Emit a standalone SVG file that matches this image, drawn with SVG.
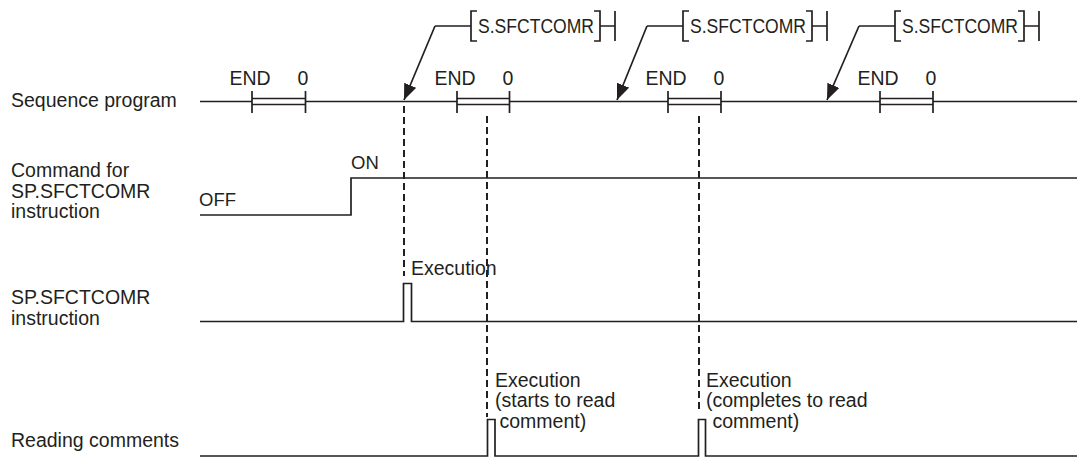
<svg xmlns="http://www.w3.org/2000/svg" width="1077" height="457" viewBox="0 0 1077 457">
<style>
text{font-family:"Liberation Sans",Arial,sans-serif;fill:#231f20}
.lbl{font-size:19.5px}
.sm{font-size:18.5px}
.ins{font-size:19.5px}
.ln{fill:none;stroke:#231f20;stroke-width:1.7}
.dash{fill:none;stroke:#231f20;stroke-width:2;stroke-dasharray:7 4}
</style>
<defs>
<marker id="ah" markerUnits="userSpaceOnUse" markerWidth="17" markerHeight="13" refX="16" refY="6.5" orient="auto">
<path d="M0,0 L16,6.5 L0,13 z" fill="#231f20"/>
</marker>
</defs>
<rect width="1077" height="457" fill="#fff"/>
<g id="labels">
<text class="lbl" x="11" y="107">Sequence program</text>
<text class="lbl" x="11" y="177">Command for</text>
<text class="lbl" x="11" y="197.5">SP.SFCTCOMR</text>
<text class="lbl" x="11" y="218">instruction</text>
<text class="lbl" x="11" y="304">SP.SFCTCOMR</text>
<text class="lbl" x="11" y="325">instruction</text>
<text class="lbl" x="11" y="447">Reading comments</text>
</g>
<g id="sequence-program">
<path class="ln" d="M200,101.5H252M305.5,101.5H457M509.5,101.5H668M721,101.5H880M933,101.5H1077"/>
<path class="ln" d="M252,91V113M305.5,91V113M252,98.5H305.5M252,104.5H305.5"/>
<path class="ln" d="M457,91V113M509.5,91V113M457,98.5H509.5M457,104.5H509.5"/>
<path class="ln" d="M668,91V113M721,91V113M668,98.5H721M668,104.5H721"/>
<path class="ln" d="M880,91V113M933,91V113M880,98.5H933M880,104.5H933"/>
<text class="lbl" x="229.5" y="85">END</text><text class="lbl" x="297.5" y="85">0</text>
<text class="lbl" x="434.5" y="85">END</text><text class="lbl" x="502.5" y="85">0</text>
<text class="lbl" x="645.5" y="85">END</text><text class="lbl" x="713.5" y="85">0</text>
<text class="lbl" x="857.5" y="85">END</text><text class="lbl" x="925.5" y="85">0</text>
</g>
<g id="instr-1">
<path class="ln" d="M435,26H471M477,11H471V41H477M594,11H600V41H594M600,26H615M615,11V41"/>
<text class="ins" x="478" y="33" textLength="116" lengthAdjust="spacingAndGlyphs">S.SFCTCOMR</text>
</g>
<g id="instr-2">
<path class="ln" d="M647,26H683M689,11H683V41H689M806,11H812V41H806M812,26H827M827,11V41"/>
<text class="ins" x="690" y="33" textLength="116" lengthAdjust="spacingAndGlyphs">S.SFCTCOMR</text>
</g>
<g id="instr-3">
<path class="ln" d="M859,26H895M901,11H895V41H901M1018,11H1024V41H1018M1024,26H1039M1039,11V41"/>
<text class="ins" x="902" y="33" textLength="116" lengthAdjust="spacingAndGlyphs">S.SFCTCOMR</text>
</g>
<g id="command-signal">
<path class="ln" d="M200,215H351V178H1077"/>
<text class="sm" x="199" y="206">OFF</text>
<text class="sm" x="351" y="169">ON</text>
</g>
<g id="instruction-signal">
<path class="ln" d="M200,321.5H403.5V283.5H411.5V321.5H1077"/>
<text class="lbl" x="411" y="275">Execution</text>
</g>
<g id="reading-signal">
<path class="ln" d="M200,456H487.5V419.5H495V456H698.5V419.5H705.5V456H1077"/>
<text class="lbl" x="495" y="387">Execution</text>
<text class="lbl" x="495" y="407">(starts to read</text>
<text class="lbl" x="499.5" y="428">comment)</text>
<text class="lbl" x="706" y="387">Execution</text>
<text class="lbl" x="706" y="407">(completes to read</text>
<text class="lbl" x="712.5" y="428">comment)</text>
</g>
<g id="connectors">
<path class="ln" d="M435,26L404,100" marker-end="url(#ah)"/>
<path class="ln" d="M647,26L617,100" marker-end="url(#ah)"/>
<path class="ln" d="M859,26L827,100" marker-end="url(#ah)"/>
<path class="dash" d="M404,106V276"/>
<path class="dash" d="M487,116V417"/>
<path class="dash" d="M699,116V409"/>
</g>
</svg>
